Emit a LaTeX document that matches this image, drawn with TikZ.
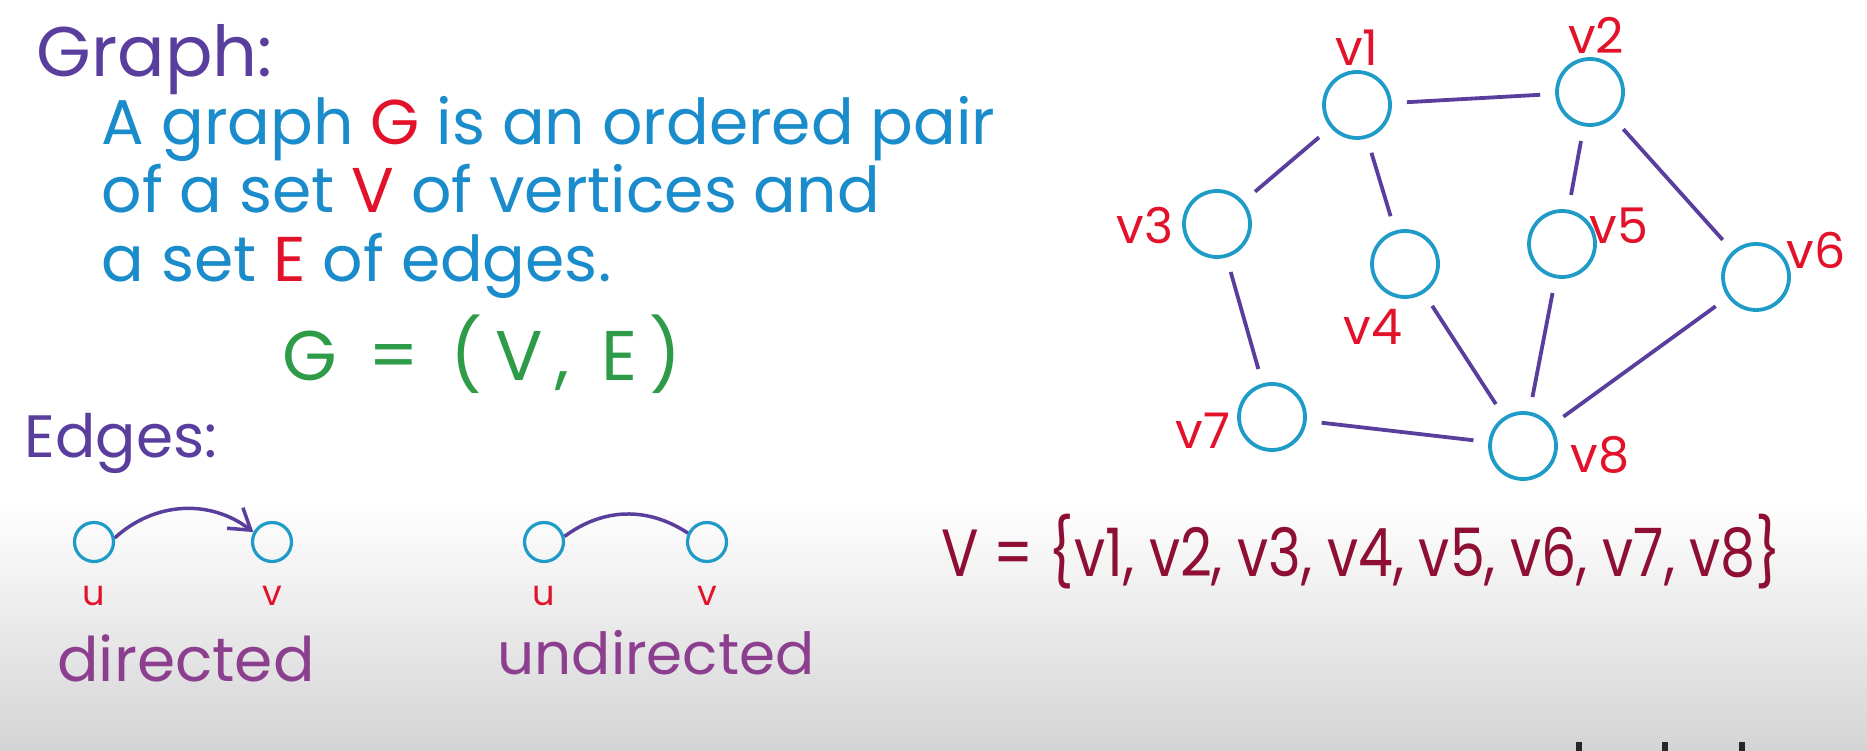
\documentclass[tikz,border=0pt]{standalone}
\usepackage{fontspec}
\setmainfont{Poppins}
\usetikzlibrary{arrows.meta,positioning}
\definecolor{ink}{HTML}{5A3E9E}
\definecolor{pen}{HTML}{1A8CCB}
\definecolor{mark}{HTML}{E3122B}
\definecolor{eqn}{HTML}{2E9B48}
\definecolor{ring}{HTML}{1E9BC6}
\definecolor{wine}{HTML}{8E0F33}
\definecolor{plum}{HTML}{8C3F8E}
\definecolor{paper}{HTML}{D4D4D6}
\tikzset{
  >={Straight Barb[length=2mm,width=2.6mm]},
  every node/.style={inner sep=0pt},
  vertex/.style={circle,draw=ring,line width=0.38mm,minimum size=6.6mm},
  dot/.style={circle,draw=ring,line width=0.32mm,minimum size=3.9mm},
  link/.style={draw=ink,line width=0.38mm,shorten <=1.5mm,shorten >=1.5mm},
  vname/.style={text=mark,font=\fontsize{14}{16}\selectfont},
  endname/.style={text=mark,font=\fontsize{10}{12}\selectfont},
  heading/.style={text=ink,anchor=base west,font=\fontsize{20}{22}\selectfont},
  body/.style={text=pen,anchor=base west,font=\fontsize{18}{21}\selectfont},
  kind/.style={text=plum,anchor=base,font=\fontsize{17.5}{20}\selectfont},
}
\begin{document}
\begin{tikzpicture}[x=0.1mm,y=-0.1mm]
  \useasboundingbox (0,0) rectangle (1867,751);
  \fill[white] (0,0) rectangle (1867,751);
  \shade[top color=white,bottom color=paper] (0,500) rectangle (1867,751);

  % definition
  \node[heading] (graph) at (36,77) {Graph:};
  \node[body] (line1) at (101,145) {A graph \textcolor{mark}{G} is an ordered pair};
  \node[body] (line2) at (101,213) {of a set \textcolor{mark}{V} of vertices and};
  \node[body] (line3) at (101,282) {a set \textcolor{mark}{E} of edges.};
  \node[body,text=eqn,font=\fontsize{20}{23}\selectfont\addfontfeature{LetterSpace=18}] (pair) at (282,381) {G = (V, E)};

  % edge kinds
  \node[heading,font=\fontsize{17}{20}\selectfont] (edges) at (24,458) {Edges:};
  \node[dot] (du) at (94,542) {};
  \node[dot] (dv) at (272,542) {};
  \node[endname,below=2.2mm of du] {u};
  \node[endname,below=2.2mm of dv] {v};
  \draw[ink,line width=0.35mm,->] (du.11) to[bend left=40] (dv.152);
  \node[kind] (directed) at (186,681) {directed};

  \node[dot] (uu) at (544,542) {};
  \node[dot] (uv) at (707,542) {};
  \node[endname,below=2.2mm of uu] {u};
  \node[endname,below=2.2mm of uv] {v};
  \draw[ink,line width=0.35mm] (uu.15) to[bend left=35] (uv.155);
  \node[kind,font=\fontsize{16.5}{19}\selectfont] (undirected) at (656,675) {undirected};

  % the graph
  \node[vertex] (v1) at (1357,105) {};
  \node[vertex] (v2) at (1590,92) {};
  \node[vertex] (v3) at (1217,224) {};
  \node[vertex] (v4) at (1405,264) {};
  \node[vertex] (v5) at (1562,244) {};
  \node[vertex] (v6) at (1756,277) {};
  \node[vertex] (v7) at (1272,417) {};
  \node[vertex] (v8) at (1523,446) {};
  \node[vname] at (1357,48) {v1};
  \node[vname] at (1596,35) {v2};
  \node[vname] at (1145,226) {v3};
  \node[vname] at (1373,327) {v4};
  \node[vname] at (1619,226) {v5};
  \node[vname] at (1816,250) {v6};
  \node[vname] at (1203,431) {v7};
  \node[vname] at (1600,455) {v8};
  \foreach \a/\b in {v1/v2,v1/v3,v1/v4,v2/v5,v2/v6,v3/v7,v4/v8,v5/v8,v6/v8,v7/v8}
    \draw[link] (\a) -- (\b);

  \node[anchor=base west,text=wine,font=\fontsize{19}{22}\selectfont\addfontfeature{FakeStretch=0.83}] (vset) at (941,577)
    {V = \{v1, v2, v3, v4, v5, v6, v7, v8\}};

  % cut-off marks at the bottom edge
  \foreach \x in {1579,1665,1742}
    \draw[black!85,line width=0.6mm] (\x,742) -- (\x,751);
\end{tikzpicture}
\end{document}
